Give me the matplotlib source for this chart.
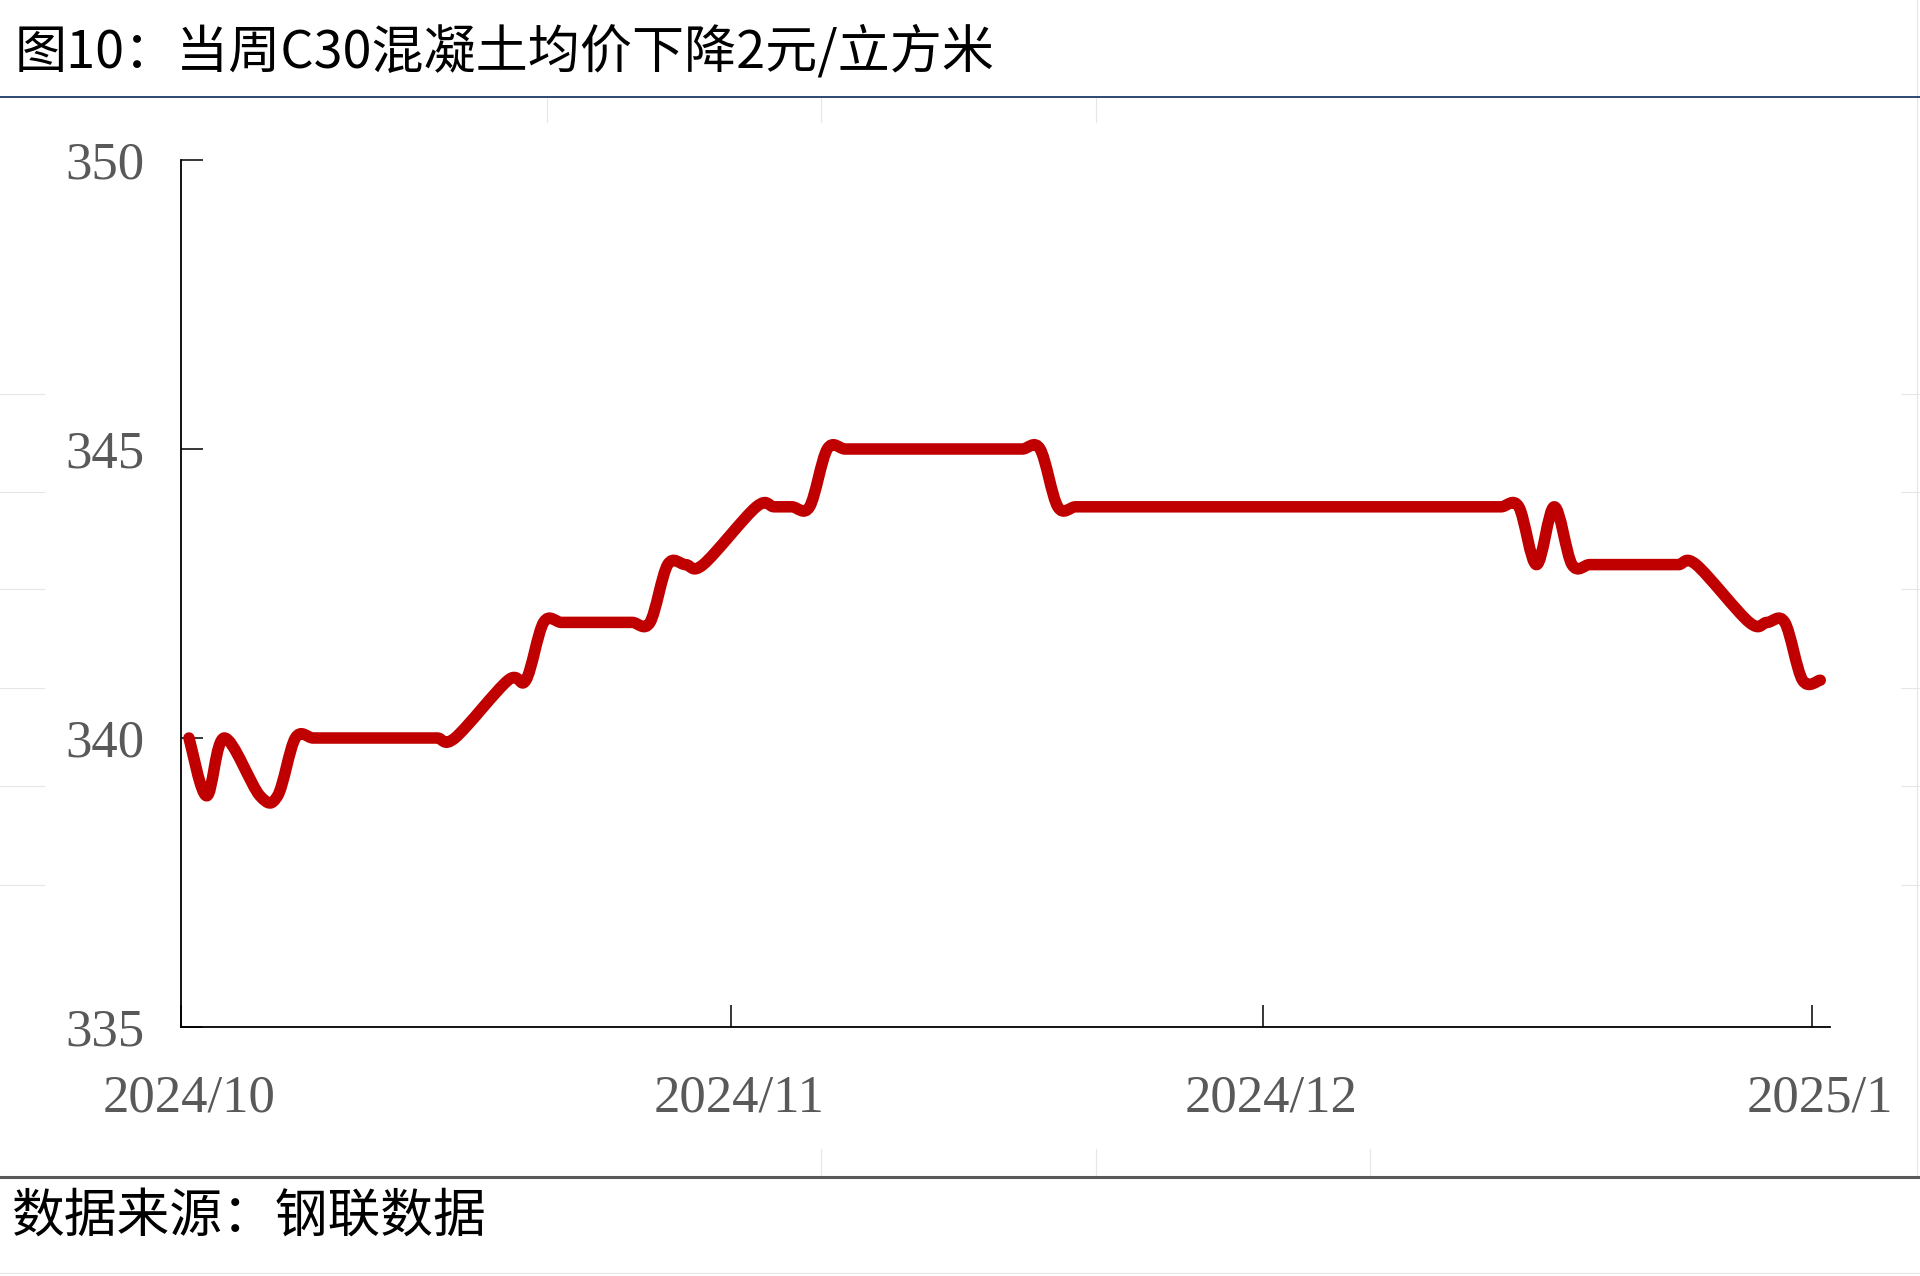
import numpy as np
import pandas as pd
import matplotlib
matplotlib.use("Agg")
import matplotlib.pyplot as plt
import matplotlib.dates as mdates
from matplotlib.path import Path
from matplotlib.patches import PathPatch
from matplotlib.lines import Line2D

# ---------------- data ----------------
title_text = "图10：当周C30混凝土均价下降2元/立方米"
source_text = "数据来源：钢联数据"

all_days = pd.date_range("2024-10-01", "2025-01-01", freq="D")
missing_days = ["2024-10-04", "2024-10-17", "2024-10-18", "2024-10-31",
                "2024-11-01", "2024-12-26", "2024-12-27"]
dates = all_days.drop(pd.to_datetime(missing_days))

prices = [340, 339, 340, 339, 339, 340,
          340, 340, 340, 340, 340, 340, 340, 340, 340,
          341, 341,
          342, 342, 342, 342, 342, 342, 342,
          343, 343, 343,
          344, 344, 344, 344,
          345, 345, 345, 345, 345, 345, 345, 345, 345, 345, 345, 345, 345,
          344, 344, 344, 344, 344, 344, 344, 344, 344, 344, 344, 344, 344,
          344, 344, 344, 344, 344, 344, 344, 344, 344, 344, 344, 344, 344, 344,
          343, 344, 343,
          343, 343, 343, 343, 343, 343, 343,
          342, 342, 342,
          341, 341]

y_ticks = [335, 340, 345, 350]
x_tick_dates = ["2024-10-01", "2024-11-01", "2024-12-01", "2025-01-01"]
x_tick_labels = ["2024/10", "2024/11", "2024/12", "2025/1"]

# ---------------- figure ----------------
W, H = 1920, 1276
fig = plt.figure(figsize=(W / 100, H / 100), dpi=100)
fig.patch.set_facecolor("white")

cjk = ["Noto Sans CJK SC", "DejaVu Sans"]
serif = ["Liberation Serif", "DejaVu Serif"]

ax = fig.add_axes([181 / W, 1 - 1027 / H, (1830 - 181) / W, (1027 - 160) / H])

x = mdates.date2num(dates.to_pydatetime())
y = np.asarray(prices, dtype=float)

# smoothed line (cubic Bezier through every point, like a spreadsheet "smoothed line")
pts = np.column_stack([x, y])
n = len(pts)
verts = [pts[0]]
codes = [Path.MOVETO]
for i in range(n - 1):
    p0 = pts[i - 1] if i > 0 else pts[i]
    p1 = pts[i]
    p2 = pts[i + 1]
    p3 = pts[i + 2] if i + 2 < n else pts[i + 1]
    c1 = p1 + (p2 - p0) / 6.0
    c2 = p2 - (p3 - p1) / 6.0
    verts += [c1, c2, p2]
    codes += [Path.CURVE4] * 3
path = Path(np.array(verts), codes)
patch = PathPatch(path, facecolor="none", edgecolor="#C00000", lw=8.3,
                  capstyle="round", joinstyle="round", transform=ax.transData, zorder=3)
ax.add_patch(patch)

start = mdates.date2num(pd.Timestamp("2024-10-01"))
ax.set_xlim(start - 0.45, start + 92.55)
ax.set_ylim(335, 350)

# spines
for s in ["top", "right"]:
    ax.spines[s].set_visible(False)
for s in ["left", "bottom"]:
    ax.spines[s].set_color("black")
    ax.spines[s].set_linewidth(1.3)

# y ticks
ax.set_yticks(y_ticks)
ax.set_yticklabels([str(v) for v in y_ticks])
ax.tick_params(axis="y", direction="in", length=16, width=1.1, color="black",
               labelsize=38, labelcolor="#595959", pad=26)

# x ticks: marks slightly left of labels
tick_nums = [mdates.date2num(pd.Timestamp(d)) for d in x_tick_dates]
ax.set_xticks([t - 0.45 for t in tick_nums])
ax.set_xticklabels([])
ax.set_xticks(tick_nums, minor=True)
ax.set_xticklabels(x_tick_labels, minor=True)
ax.tick_params(axis="x", which="major", direction="in", length=16, width=1.1, color="black")
ax.tick_params(axis="x", which="minor", length=0, labelsize=38,
               labelcolor="#595959", pad=34)
for lab in ax.get_xticklabels(minor=True) + ax.get_yticklabels():
    lab.set_fontfamily(serif)

# ---------------- decorations ----------------
def fline(x0, y0, x1, y1, color, lw):
    fig.add_artist(Line2D([x0 / W, x1 / W], [1 - y0 / H, 1 - y1 / H],
                          color=color, lw=lw, transform=fig.transFigure))

# faint sheet grid fragments
faint = "#E6E6E6"
for yy in [393.6, 491.5, 589, 688, 786, 885]:
    fline(0, yy, 44, yy, faint, 0.8)
    fline(1901, yy, 1920, yy, faint, 0.8)
for xx in [547, 821, 1096]:
    fline(xx, 98, xx, 122, faint, 0.8)
for xx in [821, 1096, 1370]:
    fline(xx, 1149, xx, 1176, faint, 0.8)
fline(1917, 0, 1917, 1176, faint, 0.8)
fline(0, 1273, 1920, 1273, faint, 0.8)

# title rule and bottom rule
fline(0, 97, 1920, 97, "#1F3864", 1.3)
fline(0, 1177, 1920, 1177, "#595959", 2.2)

fig.text(15 / W, 1 - 53 / H, title_text, fontsize=37.5, family=cjk,
         ha="left", va="center", color="black")
fig.text(12 / W, 1 - 1216 / H, source_text, fontsize=38, family=cjk,
         ha="left", va="center", color="black")

fig.savefig("out.png", dpi=100, facecolor="white")
